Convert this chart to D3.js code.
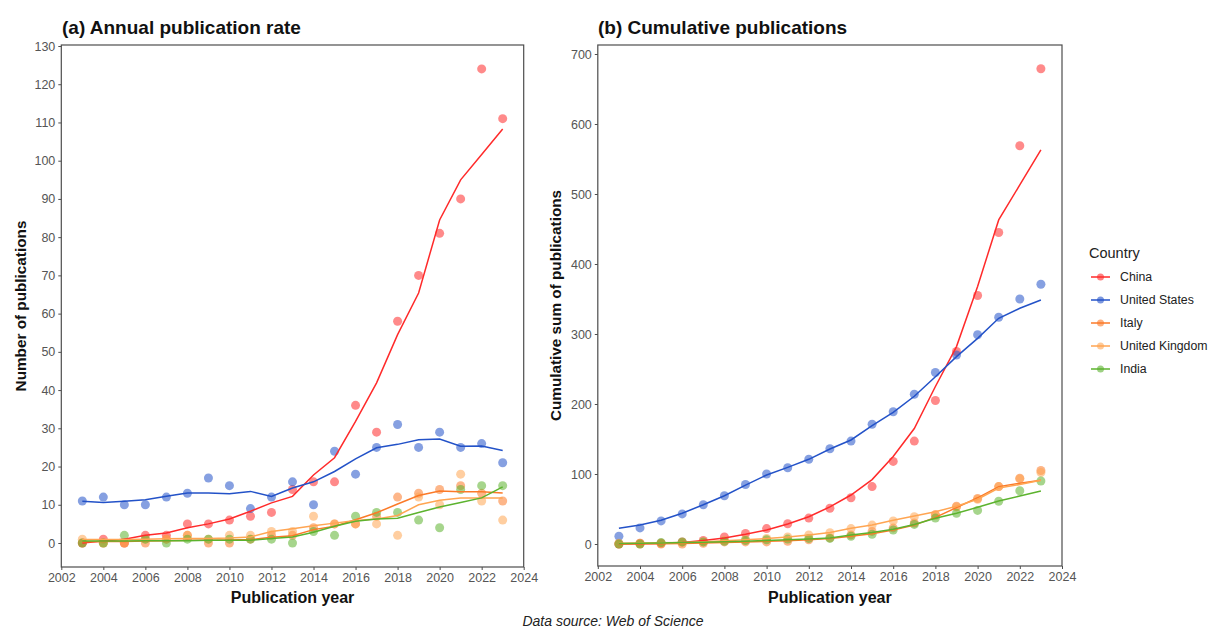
<!DOCTYPE html>
<html>
<head>
<meta charset="utf-8">
<script src="https://cdn.jsdelivr.net/npm/d3@7"></script>
<style>
  body { margin: 0; background: #fff; }
  svg { font-family: "Liberation Sans", Arial, sans-serif; }
</style>
</head>
<body>
<div id="chart"></div>
<script>
const years = d3.range(2003, 2024)
const countries = ['China', 'United States', 'Italy', 'United Kingdom', 'India']
const colors = ['#ff2a2a', '#2352c8', '#fb7a28', '#ffa552', '#5cb32e']
const xTicks = d3.range(2002, 2025, 2)

// annual counts (points)
const annualChina = [0, 1, 0, 2, 2, 5, 5, 6, 7, 8, 14, 16, 16, 36, 29, 58, 70, 81, 90, 124, 111]
const annualUS    = [11, 12, 10, 10, 12, 13, 17, 15, 9, 12, 16, 10, 24, 18, 25, 31, 25, 29, 25, 26, 21]
const annualItaly = [0, 0, 0, 0, 1, 2, 0, 0, 1, 2, 2, 4, 5, 5, 7, 12, 13, 14, 15, 13, 11]
const annualUK    = [1, 0, 0, 1, 1, 2, 1, 2, 2, 3, 3, 7, 5, 5, 5, 2, 12, 10, 18, 11, 6]
const annualIndia = [0, 0, 2, 1, 0, 1, 1, 1, 1, 1, 0, 3, 2, 7, 8, 8, 6, 4, 14, 15, 15]

// annual trend lines
const annualFitChina = [0, 0.5, 1, 2, 2.6, 4, 5, 6.3, 8.3, 10.5, 12.2, 17.8, 22.3, 31.8, 41.9, 54.5, 65.4, 84.5, 95, 101.6, 108.3]
const annualFitUS    = [10.9, 10.6, 10.9, 11.3, 12.2, 13.1, 13.1, 12.9, 13.5, 12.2, 14.4, 16, 18.7, 22, 24.9, 25.8, 27, 27.2, 25.3, 25.4, 24.2]
const annualFitItaly = [0.3, 0.4, 0.4, 0.5, 0.6, 0.7, 0.7, 0.8, 0.9, 1.5, 1.9, 3.5, 4.4, 6.1, 7.9, 10.2, 12.4, 13.6, 13.4, 13.4, 13.1]
const annualFitUK    = [0.9, 0.9, 0.9, 1, 1.1, 1.2, 1.2, 1.3, 1.6, 3, 3.7, 4.5, 5.2, 5.9, 6.3, 7.2, 10, 11.2, 11.8, 11.8, 11.8]
const annualFitIndia = [0.5, 0.5, 0.5, 0.6, 0.6, 0.6, 0.7, 0.7, 0.7, 1.2, 1.6, 2.8, 4.4, 5.7, 6.3, 6.5, 8, 9.4, 10.6, 11.8, 14.7]

// cumulative counts (points)
const cumChina = [0, 1, 1, 3, 5, 10, 15, 22, 29, 37, 51, 66, 82, 118, 147, 205, 275, 355, 445, 569, 679]
const cumUS    = [11, 23, 33, 43, 56, 69, 85, 100, 109, 121, 136, 147, 171, 189, 214, 245, 270, 299, 324, 350, 371]
const cumItaly = [0, 0, 0, 0, 1, 3, 3, 3, 4, 6, 9, 13, 18, 23, 30, 42, 54, 65, 82, 94, 105]
const cumUK    = [1, 1, 1, 2, 3, 5, 6, 8, 10, 13, 16, 22, 27, 33, 39, 41, 53, 64, 82, 93, 102]
const cumIndia = [0, 0, 2, 3, 3, 4, 5, 6, 7, 8, 8, 11, 14, 20, 28, 37, 44, 48, 61, 76, 90]

// cumulative trend lines
const cumFitChina = [0, 0.3, 0.6, 2, 5, 8.6, 13.8, 20, 28.6, 39, 53, 70, 92, 125, 165, 225, 282, 368, 463, 513, 563]
const cumFitUS    = [22.4, 27, 34, 44, 56, 69, 84, 98.6, 109.5, 121, 135.7, 148.6, 169, 188, 211, 239, 267.6, 293.8, 322.4, 336.7, 348.6]
const cumFitItaly = [0, 0.2, 0.4, 0.8, 1.4, 2.2, 3, 3.8, 4.8, 6, 8, 11, 14.5, 20, 27, 38, 52, 66, 82, 86.7, 91]
const cumFitUK    = [1, 1.3, 1.7, 2.3, 3.2, 4.5, 6, 7.8, 10, 13, 16.5, 22.4, 27, 34, 40, 46, 54, 64, 80, 85, 91]
const cumFitIndia = [0.8, 1, 1.4, 2, 2.6, 3.3, 4.1, 5, 6, 7, 8.5, 12.9, 16.5, 21, 28, 36.7, 43.8, 52.4, 61.4, 68.6, 75.7]

const annualPts = [annualChina, annualUS, annualItaly, annualUK, annualIndia]
const annualFit = [annualFitChina, annualFitUS, annualFitItaly, annualFitUK, annualFitIndia]
const cumPts = [cumChina, cumUS, cumItaly, cumUK, cumIndia]
const cumFit = [cumFitChina, cumFitUS, cumFitItaly, cumFitUK, cumFitIndia]

const W = 1208, H = 628

let svg = d3.select('#chart').append('svg')
  .attr('width', W)
  .attr('height', H)

function drawPanel(opts) {
  let x = d3.scaleLinear().domain([2002, 2024]).range([opts.left, opts.right])
  let y = d3.scaleLinear().domain([0, opts.yMax]).range([opts.y0, opts.yTop])

  let g = svg.append('g')

  // points first, then lines on top
  opts.pts.forEach((vals, ci) => {
    g.append('g').selectAll('circle')
      .data(vals)
      .enter().append('circle')
        .attr('cx', (d, i) => x(years[i]))
        .attr('cy', d => y(d))
        .attr('r', 4.5)
        .attr('fill', colors[ci])
        .attr('fill-opacity', 0.55)
  })

  let line = d3.line()
    .x((d, i) => x(years[i]))
    .y(d => y(d))

  opts.fit.forEach((vals, ci) => {
    g.append('path')
      .datum(vals)
      .attr('d', line)
      .attr('fill', 'none')
      .attr('stroke', colors[ci])
      .attr('stroke-width', 1.5)
  })

  // panel border
  g.append('rect')
    .attr('x', opts.left)
    .attr('y', opts.boxTop)
    .attr('width', opts.right - opts.left)
    .attr('height', opts.boxBottom - opts.boxTop)
    .attr('fill', 'none')
    .attr('stroke', '#4d4d4d')
    .attr('stroke-width', 1.2)

  // axes
  g.append('g')
    .attr('transform', `translate(0, ${opts.boxBottom})`)
    .call(d3.axisBottom(x).tickValues(xTicks).tickFormat(d3.format('d')).tickSize(3).tickSizeOuter(0).tickPadding(3))
    .call(a => a.select('.domain').remove())
    .call(a => a.selectAll('.tick line').attr('stroke', '#4d4d4d'))
    .call(a => a.selectAll('.tick text')
      .attr('fill', '#555')
      .attr('font-size', 12.5)
      .attr('font-family', '"Liberation Sans", Arial, sans-serif'))

  g.append('g')
    .attr('transform', `translate(${opts.left}, 0)`)
    .call(d3.axisLeft(y).tickValues(opts.yTicks).tickSize(3).tickSizeOuter(0).tickPadding(3))
    .call(a => a.select('.domain').remove())
    .call(a => a.selectAll('.tick line').attr('stroke', '#4d4d4d'))
    .call(a => a.selectAll('.tick text')
      .attr('fill', '#555')
      .attr('font-size', 12.5)
      .attr('font-family', '"Liberation Sans", Arial, sans-serif'))

  g.append('text')
    .attr('x', opts.titleX)
    .attr('y', 34)
    .attr('font-size', 19)
    .attr('font-weight', 'bold')
    .attr('fill', '#111')
    .text(opts.title)

  g.append('text')
    .attr('x', (opts.left + opts.right) / 2)
    .attr('y', 603)
    .attr('text-anchor', 'middle')
    .attr('font-size', 16)
    .attr('font-weight', 'bold')
    .attr('fill', '#111')
    .text('Publication year')

  g.append('text')
    .attr('transform', `translate(${opts.yLabelX}, ${(opts.boxTop + opts.boxBottom) / 2}) rotate(-90)`)
    .attr('text-anchor', 'middle')
    .attr('font-size', 15.3)
    .attr('font-weight', 'bold')
    .attr('fill', '#111')
    .text(opts.yLabel)
}

drawPanel({
  left: 61.3, right: 523.7, boxTop: 45, boxBottom: 567,
  y0: 543, yTop: 46, yMax: 130, yTicks: d3.range(0, 131, 10),
  pts: annualPts, fit: annualFit,
  title: '(a) Annual publication rate', titleX: 62,
  yLabelX: 25.5, yLabel: 'Number of publications'
})

drawPanel({
  left: 597.8, right: 1062, boxTop: 45, boxBottom: 566,
  y0: 544, yTop: 54, yMax: 700, yTicks: d3.range(0, 701, 100),
  pts: cumPts, fit: cumFit,
  title: '(b) Cumulative publications', titleX: 598,
  yLabelX: 561, yLabel: 'Cumulative sum of publications'
})

// legend
let legend = svg.append('g').attr('transform', 'translate(1089, 0)')
legend.append('text')
  .attr('x', 0)
  .attr('y', 258)
  .attr('font-size', 14.5)
  .attr('fill', '#222')
  .text('Country')

let items = legend.selectAll('.item')
  .data(countries)
  .enter().append('g')
    .attr('class', 'item')
    .attr('transform', (d, i) => `translate(0, ${277 + i * 23})`)

items.append('line')
  .attr('x1', 2).attr('x2', 21)
  .attr('stroke', (d, i) => colors[i])
  .attr('stroke-width', 1.5)
items.append('circle')
  .attr('cx', 11.5)
  .attr('r', 3.5)
  .attr('fill', (d, i) => colors[i])
  .attr('fill-opacity', 0.6)
items.append('text')
  .attr('x', 31)
  .attr('y', 4)
  .attr('font-size', 12.3)
  .attr('fill', '#222')
  .text(d => d)

svg.append('text')
  .attr('x', 613)
  .attr('y', 626)
  .attr('text-anchor', 'middle')
  .attr('font-size', 14)
  .attr('font-style', 'italic')
  .attr('fill', '#222')
  .text('Data source: Web of Science')
</script>
</body>
</html>
